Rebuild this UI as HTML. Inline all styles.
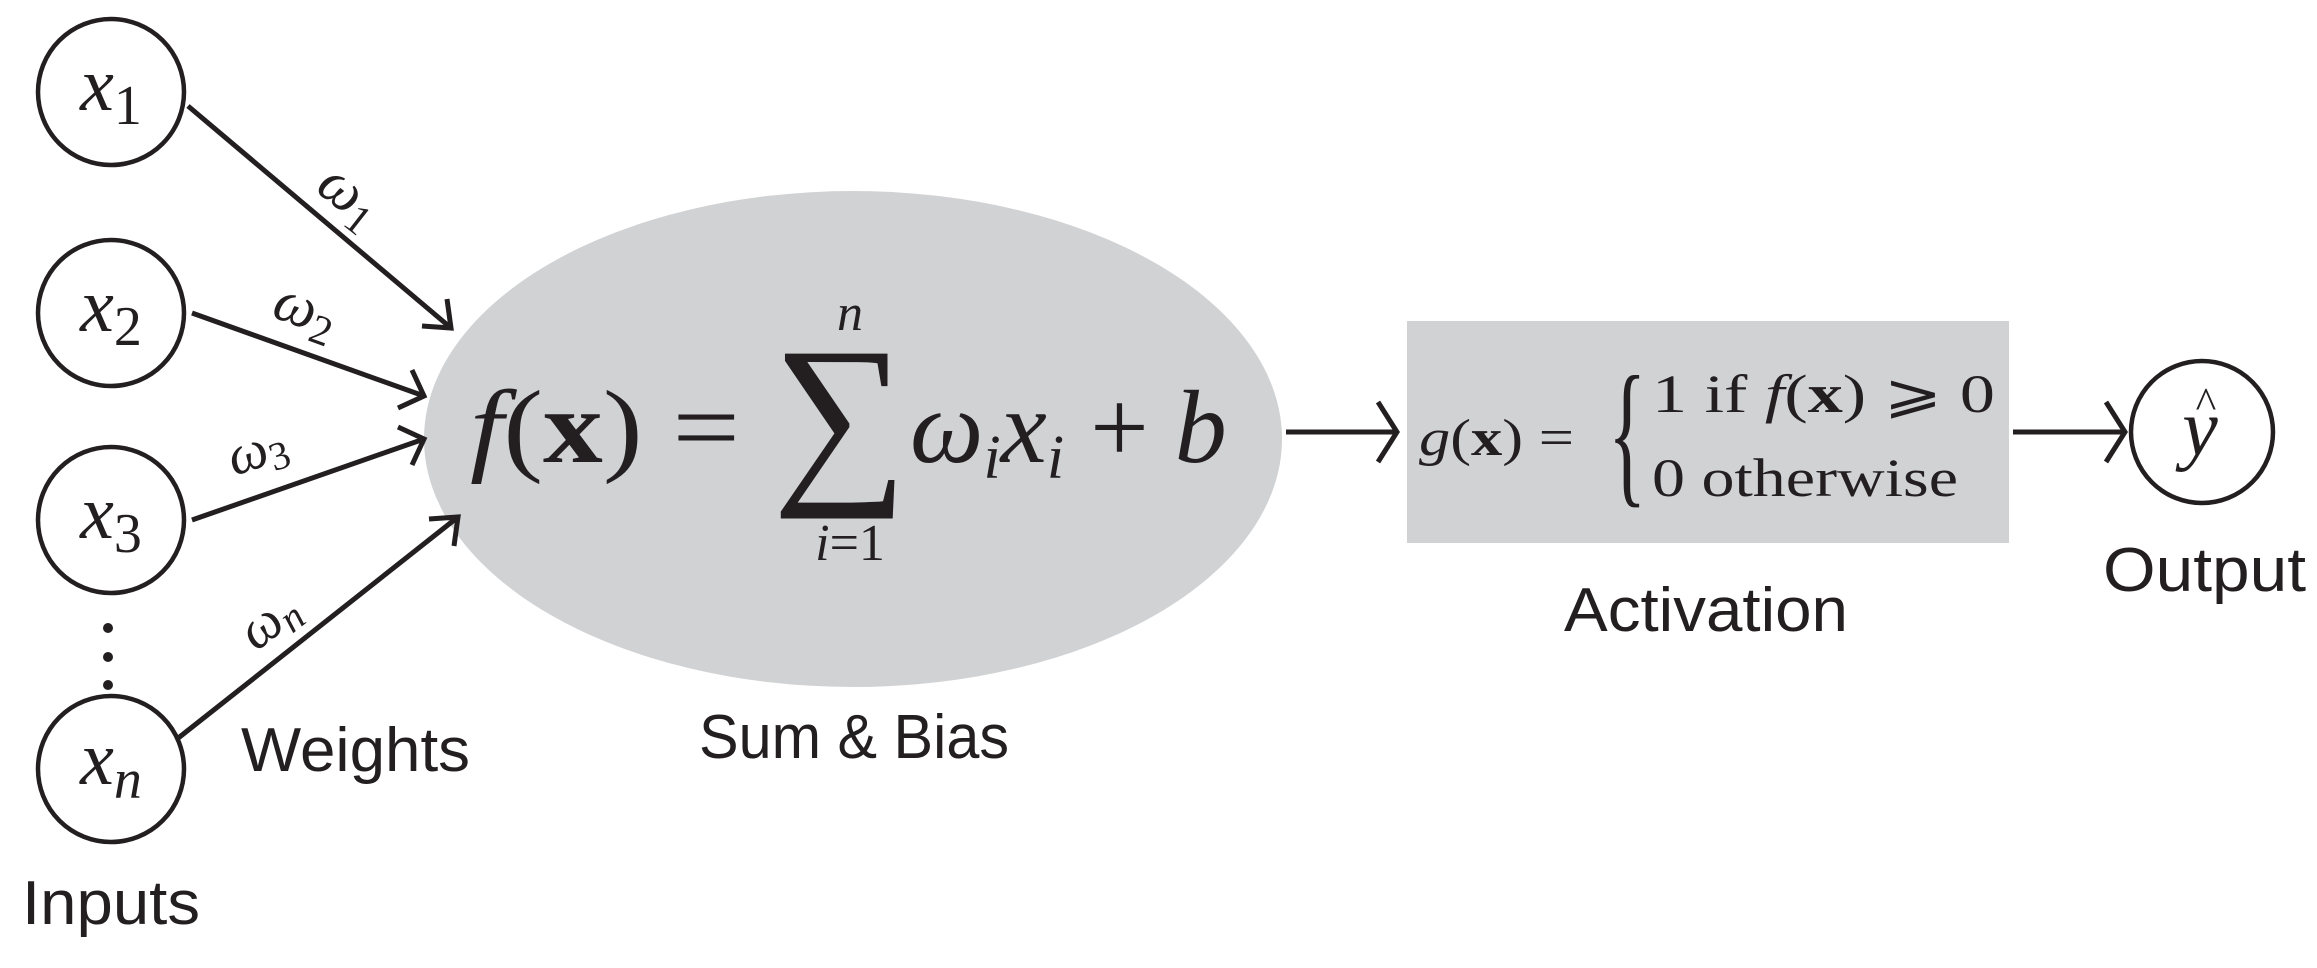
<!DOCTYPE html>
<html><head><meta charset="utf-8"><style>
html,body{margin:0;padding:0;background:#fff;}
svg{display:block}
.m{font-family:"Liberation Serif","DejaVu Serif",serif;fill:#231f20}
.s{font-family:"Liberation Sans","DejaVu Sans",sans-serif;fill:#231f20}
</style></head><body>
<svg width="2317" height="968" viewBox="0 0 2317 968" xmlns="http://www.w3.org/2000/svg">
<g stroke="#231f20" stroke-width="4.5" fill="#fff">
<circle cx="111" cy="92" r="73"/>
<circle cx="111" cy="313" r="73"/>
<circle cx="111" cy="520" r="73"/>
<circle cx="111" cy="769" r="73"/>
<circle cx="2202" cy="432" r="71"/>
</g>
<ellipse cx="853" cy="439" rx="429" ry="248" fill="#d1d2d4"/>
<rect x="1407" y="321" width="602" height="222" fill="#d1d2d4"/>
<g fill="#231f20">
<circle cx="108" cy="628" r="5"/><circle cx="108" cy="657" r="5"/><circle cx="108" cy="685" r="5"/>
</g>
<g stroke="#231f20" stroke-width="5" fill="none">
<line x1="188" y1="106" x2="451" y2="328"/>
<polyline points="422,326 451,328 447,299"/>
<line x1="192" y1="313" x2="424" y2="396"/>
<polyline points="398,408 424,396 412,370"/>
<line x1="192" y1="520" x2="424" y2="439"/>
<polyline points="412,465 424,439 398,427"/>
<line x1="177" y1="739" x2="458" y2="517"/>
<polyline points="454,546 458,517 429,519"/>
<line x1="1286" y1="432" x2="1397" y2="432"/>
<polyline points="1378,402 1397,432 1378,462"/>
<line x1="2013" y1="432" x2="2125" y2="432"/>
<polyline points="2106,402 2125,432 2106,462"/>
</g>
<g class="m" font-style="italic">
<text x="111" y="110" font-size="76" text-anchor="middle">x<tspan font-style="normal" font-size="56" dy="14">1</tspan></text>
<text x="111" y="331" font-size="76" text-anchor="middle">x<tspan font-style="normal" font-size="56" dy="14">2</tspan></text>
<text x="111" y="538" font-size="76" text-anchor="middle">x<tspan font-style="normal" font-size="56" dy="14">3</tspan></text>
<text x="111" y="784" font-size="76" text-anchor="middle">x<tspan font-size="56" dy="14">n</tspan></text>
<text x="2200" y="455" font-size="80" text-anchor="middle">y</text>
<text x="2206" y="418" font-size="44" font-style="normal" text-anchor="middle">^</text>
<text font-size="60" transform="translate(314,190) rotate(38)">ω<tspan font-style="normal" font-size="42" dy="10">1</tspan></text>
<text font-size="60" transform="translate(270,316) rotate(20)">ω<tspan font-style="normal" font-size="42" dy="10">2</tspan></text>
<text font-size="56" transform="translate(234,476) rotate(-18)">ω<tspan font-style="normal" font-size="40" dy="8">3</tspan></text>
<text font-size="56" transform="translate(256,652) rotate(-38)">ω<tspan font-size="40" dy="8">n</tspan></text>
</g>
<g class="m">
<text x="470" y="462" font-size="104" textLength="270" lengthAdjust="spacingAndGlyphs"><tspan font-style="italic">f</tspan>(<tspan font-weight="bold">x</tspan>) =</text>
<text x="840" y="478" font-size="190" text-anchor="middle">∑</text>
<text x="850" y="330" font-size="52" font-style="italic" text-anchor="middle">n</text>
<text x="850" y="560" font-size="52" text-anchor="middle"><tspan font-style="italic">i</tspan>=1</text>
<text x="910" y="462" font-size="104"><tspan font-style="italic">ω</tspan><tspan font-style="italic" font-size="62" dy="16">i</tspan><tspan font-style="italic" dy="-16">x</tspan><tspan font-style="italic" font-size="62" dy="16">i</tspan><tspan dy="-16"> + </tspan><tspan font-style="italic">b</tspan></text>
<text x="1419" y="455" font-size="52" textLength="155" lengthAdjust="spacingAndGlyphs"><tspan font-style="italic">g</tspan>(<tspan font-weight="bold">x</tspan>) =</text>
<text x="1608" y="486" font-size="160" transform="translate(1608,486) scale(0.5,1) translate(-1608,-486)">{</text>
<text x="1652" y="412" font-size="54" textLength="343" lengthAdjust="spacingAndGlyphs">1  if <tspan font-style="italic">f</tspan>(<tspan font-weight="bold">x</tspan>) ⩾ 0</text>
<text x="1652" y="496" font-size="54" textLength="306" lengthAdjust="spacingAndGlyphs">0  otherwise</text>
</g>
<g class="s" font-size="62">
<text x="22" y="924" textLength="178" lengthAdjust="spacingAndGlyphs">Inputs</text>
<text x="241" y="771" textLength="229" lengthAdjust="spacingAndGlyphs">Weights</text>
<text x="699" y="758" textLength="310" lengthAdjust="spacingAndGlyphs">Sum &amp; Bias</text>
<text x="1564" y="631" textLength="284" lengthAdjust="spacingAndGlyphs">Activation</text>
<text x="2103" y="591" textLength="203" lengthAdjust="spacingAndGlyphs">Output</text>
</g>
</svg>
</body></html>
